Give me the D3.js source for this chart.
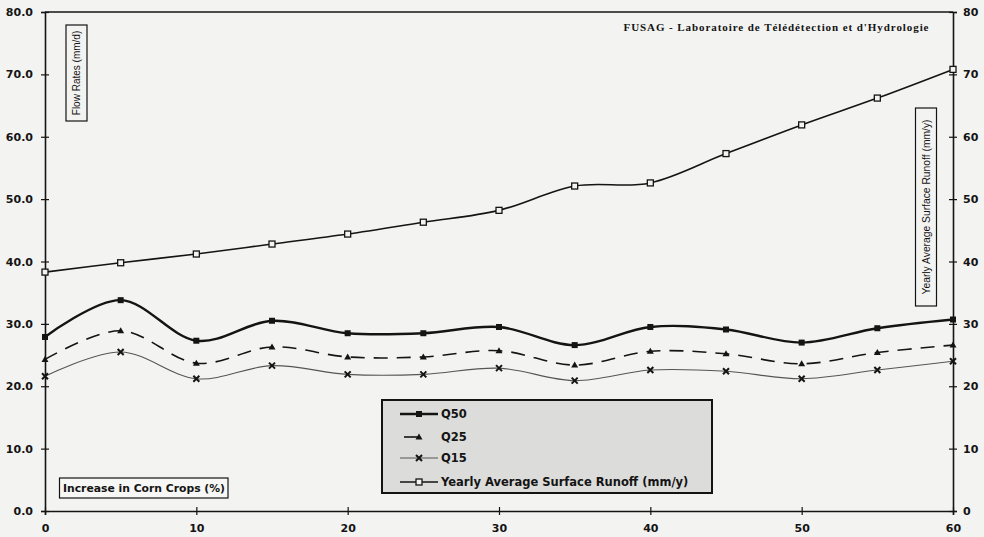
<!DOCTYPE html>
<html>
<head>
<meta charset="utf-8">
<script src="https://cdn.jsdelivr.net/npm/d3@7"></script>
<style>
  html, body { margin: 0; padding: 0; background: #f3f3f1; }
  svg { display: block; }
</style>
</head>
<body>
<svg id="chart" width="984" height="537"></svg>
<script>
// ---- data ----
const corn = [0, 5, 10, 15, 20, 25, 30, 35, 40, 45, 50, 55, 60];
const q50 = [27.9, 33.8, 27.3, 30.5, 28.5, 28.5, 29.5, 26.6, 29.5, 29.1, 27.0, 29.3, 30.7];
const q25 = [24.3, 28.9, 23.7, 26.3, 24.7, 24.7, 25.7, 23.4, 25.6, 25.2, 23.6, 25.4, 26.6];
const q15 = [21.6, 25.5, 21.2, 23.3, 21.9, 21.9, 22.9, 20.9, 22.6, 22.4, 21.2, 22.6, 24.0];
const runoff = [38.3, 39.8, 41.2, 42.8, 44.4, 46.3, 48.2, 52.1, 52.6, 57.3, 61.9, 66.2, 70.8];
const leftTicks = [0, 10, 20, 30, 40, 50, 60, 70, 80];
const rightTicks = [0, 10, 20, 30, 40, 50, 60, 70, 80];
const xTicks = [0, 10, 20, 30, 40, 50, 60];
const seriesNames = ["Q50", "Q25", "Q15", "Yearly Average Surface Runoff (mm/y)"];
const titleText = "FUSAG - Laboratoire de Télédétection et d'Hydrologie";
const leftLabel = "Flow Rates (mm/d)";
const rightLabel = "Yearly Average Surface Runoff (mm/y)";
const xLabel = "Increase in Corn Crops (%)";

// ---- layout ----
const L = 45, R = 953, T = 12, B = 511;
const svg = d3.select("#chart");
const ink = "#141414";
const x = d3.scaleLinear().domain([0, 60]).range([L, R]);
const y = d3.scaleLinear().domain([0, 80]).range([B, T]);
const y2 = d3.scaleLinear().domain([0, 80]).range([B, T]);
const boldFont = "'DejaVu Sans', Arial, sans-serif";

// frame top line
svg.append("line").attr("x1", L).attr("x2", R).attr("y1", T).attr("y2", T)
  .attr("stroke", ink).attr("stroke-width", 1.5);

// axes
function styleAxis(g, orient) {
  g.select(".domain").attr("stroke", ink).attr("stroke-width", 1.6);
  g.selectAll(".tick line").attr("stroke", ink).attr("stroke-width", 1.2);
  if (orient === "left" || orient === "right") {
    g.selectAll(".tick line").attr("x1", -4).attr("x2", 4);
  } else {
    g.selectAll(".tick line").attr("y1", -4).attr("y2", 4);
  }
  g.selectAll(".tick text").attr("fill", ink).attr("font-family", boldFont)
    .attr("font-weight", "bold").attr("font-size", 11);
}
const gl = svg.append("g").attr("transform", `translate(${L},0)`)
  .call(d3.axisLeft(y).tickValues(leftTicks).tickFormat(d3.format(".1f")).tickSizeOuter(0).tickSize(4).tickPadding(8));
styleAxis(gl, "left");
const gr = svg.append("g").attr("transform", `translate(${R},0)`)
  .call(d3.axisRight(y2).tickValues(rightTicks).tickFormat(d3.format("d")).tickSizeOuter(0).tickSize(4).tickPadding(6));
styleAxis(gr, "right");
const gb = svg.append("g").attr("transform", `translate(0,${B})`)
  .call(d3.axisBottom(x).tickValues(xTicks).tickFormat(d3.format("d")).tickSizeOuter(0).tickSize(4).tickPadding(9));
styleAxis(gb, "bottom");

// title
svg.append("text").attr("x", 776).attr("y", 31).attr("text-anchor", "middle")
  .attr("font-family", "'Liberation Serif', 'Times New Roman', serif").attr("font-weight", "bold")
  .attr("font-size", 11).attr("fill", ink).attr("textLength", 305).attr("lengthAdjust", "spacing")
  .text(titleText);

// axis label boxes
function vBox(cx, y0, y1, w, txt, size) {
  svg.append("rect").attr("x", cx - w / 2).attr("y", y0).attr("width", w).attr("height", y1 - y0)
    .attr("fill", "none").attr("stroke", ink).attr("stroke-width", 1.2);
  svg.append("text").attr("transform", `translate(${cx + 3.5},${(y0 + y1) / 2}) rotate(-90)`)
    .attr("text-anchor", "middle").attr("font-family", "'Liberation Sans', Arial, sans-serif")
    .attr("font-size", size).attr("fill", ink).text(txt);
}
vBox(76.5, 25, 121, 21, leftLabel, 10);
vBox(926, 108, 306, 21, rightLabel, 10.3);

svg.append("rect").attr("x", 59.5).attr("y", 478).attr("width", 168.5).attr("height", 20)
  .attr("fill", "#f7f7f5").attr("stroke", ink).attr("stroke-width", 1.2);
svg.append("text").attr("x", 144).attr("y", 492).attr("text-anchor", "middle")
  .attr("font-family", boldFont).attr("font-weight", "bold").attr("font-size", 10.8)
  .attr("fill", ink).text(xLabel);

// lines
const curve = d3.curveCatmullRom.alpha(0);
const line = d3.line().x((d, i) => x(corn[i])).y(d => y(d)).curve(curve);
const line2 = d3.line().x((d, i) => x(corn[i])).y(d => y2(d)).curve(curve);

const styles = [
  { data: q50, gen: line, stroke: ink, width: 2.4, dash: null, marker: "fsquare" },
  { data: q25, gen: line, stroke: ink, width: 1.6, dash: "14,9", marker: "triangle" },
  { data: q15, gen: line, stroke: "#555", width: 1.1, dash: null, marker: "cross" },
  { data: runoff, gen: line2, stroke: ink, width: 1.6, dash: null, marker: "osquare" }
];

function drawMarker(g, type, cx, cy, color) {
  if (type === "fsquare") {
    g.append("rect").attr("x", cx - 3).attr("y", cy - 3).attr("width", 6).attr("height", 6).attr("fill", ink);
  } else if (type === "osquare") {
    g.append("rect").attr("x", cx - 3).attr("y", cy - 3).attr("width", 6).attr("height", 6)
      .attr("fill", "#f3f3f1").attr("stroke", ink).attr("stroke-width", 1.3);
  } else if (type === "triangle") {
    g.append("path").attr("d", `M${cx},${cy - 3.5}L${cx + 3.5},${cy + 2.5}L${cx - 3.5},${cy + 2.5}Z`).attr("fill", ink);
  } else if (type === "cross") {
    g.append("path").attr("d", `M${cx - 3},${cy - 3}L${cx + 3},${cy + 3}M${cx + 3},${cy - 3}L${cx - 3},${cy + 3}`)
      .attr("stroke", ink).attr("stroke-width", 2);
  }
}

styles.forEach(s => {
  const p = svg.append("path").attr("d", s.gen(s.data)).attr("fill", "none")
    .attr("stroke", s.stroke).attr("stroke-width", s.width);
  if (s.dash) p.attr("stroke-dasharray", s.dash);
  const g = svg.append("g");
  const sc = s.gen === line2 ? y2 : y;
  s.data.forEach((v, i) => drawMarker(g, s.marker, x(corn[i]), sc(v), s.stroke));
});

// legend
const lg = svg.append("g");
lg.append("rect").attr("x", 382).attr("y", 400).attr("width", 330).attr("height", 93)
  .attr("fill", "#dcdcda").attr("stroke", ink).attr("stroke-width", 2);
const rowsY = [414, 437, 458, 482];
styles.forEach((s, i) => {
  const yy = rowsY[i];
  if (s.marker === "triangle") {
    lg.append("line").attr("x1", 404).attr("x2", 418).attr("y1", yy).attr("y2", yy)
      .attr("stroke", ink).attr("stroke-width", s.width);
  } else {
    lg.append("line").attr("x1", 400).attr("x2", 438).attr("y1", yy).attr("y2", yy)
      .attr("stroke", s.stroke).attr("stroke-width", s.width);
  }
  drawMarker(lg, s.marker, 419, yy, s.stroke);
  lg.append("text").attr("x", 441).attr("y", yy + 4)
    .attr("font-family", boldFont).attr("font-weight", "bold").attr("font-size", 11.5)
    .attr("fill", ink).text(seriesNames[i]);
});
</script>
</body>
</html>
